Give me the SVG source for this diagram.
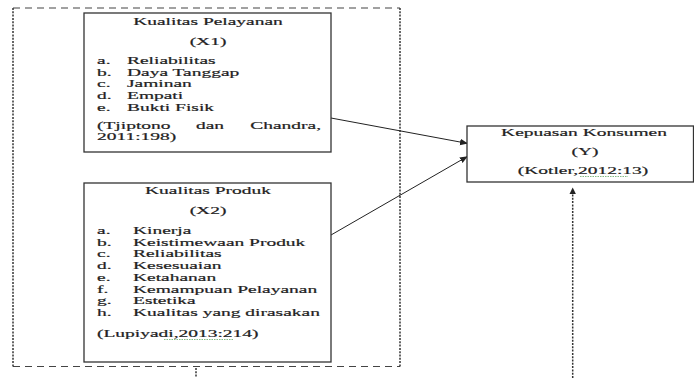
<svg xmlns="http://www.w3.org/2000/svg" width="694" height="378" viewBox="0 0 694 378">
<defs>
<marker id="ah" markerWidth="8" markerHeight="8" refX="7" refY="4" orient="auto" markerUnits="userSpaceOnUse">
<path d="M0,0.8 L8,4 L0,7.2 z" fill="#222"/>
</marker>
<style>
.t{font-family:"Liberation Serif","Times New Roman",serif;font-size:11px;fill:#222;stroke:#222;stroke-width:0.2}
.m{text-anchor:middle}
.e{text-anchor:end}
.box{fill:#fff;stroke:#333;stroke-width:1.3}
.dh{fill:none;stroke:#444;stroke-width:1.2;stroke-dasharray:7 5}
.dv{fill:none;stroke:#333;stroke-width:1.5;stroke-dasharray:2 1.3}
.ln{fill:none;stroke:#222;stroke-width:1}
.sp{fill:none;stroke:#6a6;stroke-width:0.8;stroke-dasharray:1.5 1}
</style>
</defs>
<rect width="694" height="378" fill="#fff"/>
<g id="frame">
<line class="dh" x1="13" y1="8" x2="400" y2="8"/>
<line class="dh" x1="13" y1="366.5" x2="400" y2="366.5"/>
<line class="dv" x1="13" y1="8" x2="13" y2="367"/>
<line class="dv" x1="400" y1="8" x2="400" y2="367"/>
</g>
<g id="connectors">
<line class="ln" x1="331" y1="118" x2="467" y2="143.3" marker-end="url(#ah)"/>
<line class="ln" x1="331" y1="235" x2="467" y2="156.7" marker-end="url(#ah)"/>
<line class="dv" x1="572.7" y1="378" x2="572.7" y2="193"/>
<path d="M569.5,194 L572.7,187.5 L575.9,194 z" fill="#222"/>
<line class="dv" x1="196" y1="368" x2="196" y2="378"/>
</g>
<g id="x1">
<rect class="box" x="84" y="13" width="247" height="139"/>
<text class="t m" transform="translate(208,25) scale(1.77,1)">Kualitas Pelayanan</text>
<text class="t m" transform="translate(208,44.5) scale(1.77,1)">(X1)</text>
<text class="t" transform="translate(97,64) scale(1.77,1)">a.</text>
<text class="t" transform="translate(127,64) scale(1.77,1)">Reliabilitas</text>
<text class="t" transform="translate(97,75.7) scale(1.77,1)">b.</text>
<text class="t" transform="translate(127,75.7) scale(1.77,1)">Daya Tanggap</text>
<text class="t" transform="translate(97,87.4) scale(1.77,1)">c.</text>
<text class="t" transform="translate(127,87.4) scale(1.77,1)">Jaminan</text>
<text class="t" transform="translate(97,99.1) scale(1.77,1)">d.</text>
<text class="t" transform="translate(127,99.1) scale(1.77,1)">Empati</text>
<text class="t" transform="translate(97,110.8) scale(1.77,1)">e.</text>
<text class="t" transform="translate(127,110.8) scale(1.77,1)">Bukti Fisik</text>
<text class="t" transform="translate(97,129) scale(1.77,1)">(Tjiptono</text>
<text class="t" transform="translate(196,129) scale(1.77,1)">dan</text>
<text class="t e" transform="translate(321,129) scale(1.77,1)">Chandra,</text>
<text class="t" transform="translate(97,140) scale(1.77,1)">2011:198)</text>
</g>
<g id="x2">
<rect class="box" x="84" y="183" width="247" height="179"/>
<text class="t m" transform="translate(208,194) scale(1.77,1)">Kualitas Produk</text>
<text class="t m" transform="translate(208,213.5) scale(1.77,1)">(X2)</text>
<text class="t" transform="translate(97,234) scale(1.77,1)">a.</text>
<text class="t" transform="translate(133,234) scale(1.77,1)">Kinerja</text>
<text class="t" transform="translate(97,245.7) scale(1.77,1)">b.</text>
<text class="t" transform="translate(133,245.7) scale(1.77,1)">Keistimewaan Produk</text>
<text class="t" transform="translate(97,257.4) scale(1.77,1)">c.</text>
<text class="t" transform="translate(133,257.4) scale(1.77,1)">Reliabilitas</text>
<text class="t" transform="translate(97,269.1) scale(1.77,1)">d.</text>
<text class="t" transform="translate(133,269.1) scale(1.77,1)">Kesesuaian</text>
<text class="t" transform="translate(97,280.8) scale(1.77,1)">e.</text>
<text class="t" transform="translate(133,280.8) scale(1.77,1)">Ketahanan</text>
<text class="t" transform="translate(97,292.5) scale(1.77,1)">f.</text>
<text class="t" transform="translate(133,292.5) scale(1.77,1)">Kemampuan Pelayanan</text>
<text class="t" transform="translate(97,304.2) scale(1.77,1)">g.</text>
<text class="t" transform="translate(133,304.2) scale(1.77,1)">Estetika</text>
<text class="t" transform="translate(97,315.9) scale(1.77,1)">h.</text>
<text class="t" transform="translate(133,315.9) scale(1.77,1)">Kualitas yang dirasakan</text>
<text class="t" transform="translate(97,337) scale(1.77,1)">(Lupiyadi,2013:214)</text>
<line class="sp" x1="164" y1="339.5" x2="234" y2="339.5"/>
</g>
<g id="y">
<rect class="box" x="467" y="126" width="226.5" height="56"/>
<text class="t m" transform="translate(584,135.5) scale(1.77,1)">Kepuasan Konsumen</text>
<text class="t m" transform="translate(585,155) scale(1.77,1)">(Y)</text>
<text class="t m" transform="translate(583,174) scale(1.77,1)">(Kotler,2012:13)</text>
<line class="sp" x1="580" y1="176.5" x2="628" y2="176.5"/>
</g>
</svg>
